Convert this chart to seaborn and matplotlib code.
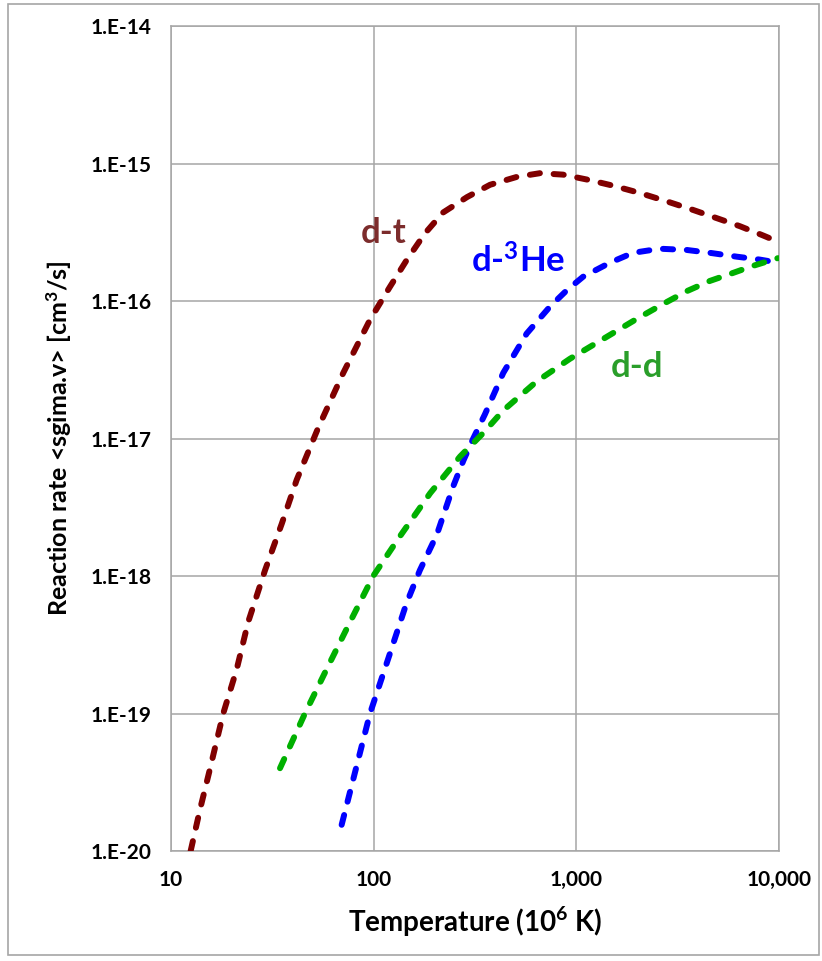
import numpy as np
import pandas as pd
import matplotlib
matplotlib.use("Agg")
import matplotlib.pyplot as plt
import seaborn as sns
from matplotlib.patches import Rectangle
from matplotlib.ticker import FixedLocator, FixedFormatter, NullLocator

# ---- data (T in 10^6 K, rate in cm^3/s) ----
dt_T = [12.5, 13.9, 15.4, 18.1, 21.1, 24.0, 29.1, 35.2, 41.7, 53.3, 70.8, 95.9, 120,
        146, 179, 220, 289, 375, 510, 661, 859, 1150, 1516, 2060, 2800, 3760, 4940,
        6410, 8330, 9880]
dt_rate = [1.0e-20, 2.0e-20, 3.7e-20, 1.0e-19, 2.1e-19, 4.6e-19, 1.1e-18, 2.4e-18,
           5.0e-18, 1.2e-17, 3.0e-17, 7.3e-17, 1.26e-16, 2.0e-16, 3.1e-16, 4.4e-16,
           5.7e-16, 7.0e-16, 8.0e-16, 8.5e-16, 8.3e-16, 7.6e-16, 6.9e-16, 6.1e-16,
           5.3e-16, 4.6e-16, 4.0e-16, 3.5e-16, 3.0e-16, 2.7e-16]

dhe_T = [69.5, 95.9, 120, 145, 169, 205, 247, 277, 310, 354, 436, 569, 741, 899,
         1079, 1466, 1902, 2583, 3512, 4563, 6198, 8050, 9880]
dhe_rate = [1.55e-20, 1.0e-19, 2.7e-19, 6.3e-19, 1.1e-18, 2.0e-18, 4.5e-18, 6.9e-18,
            1.0e-17, 1.5e-17, 3.0e-17, 5.8e-17, 9.1e-17, 1.2e-16, 1.5e-16, 1.9e-16,
            2.24e-16, 2.4e-16, 2.35e-16, 2.24e-16, 2.1e-16, 2.0e-16, 1.9e-16]

dd_T = [34.5, 45.8, 58.6, 76.3, 99.5, 135, 190, 267, 348, 436, 637, 930, 1358, 1983,
        2675, 3512, 4563, 5930, 7430, 9880]
dd_rate = [4.0e-20, 1.0e-19, 2.1e-19, 4.6e-19, 1.0e-18, 1.95e-18, 4.0e-18, 7.4e-18,
           1.1e-17, 1.6e-17, 2.6e-17, 3.8e-17, 5.3e-17, 7.4e-17, 9.5e-17, 1.18e-16,
           1.4e-16, 1.6e-16, 1.8e-16, 2.05e-16]

x_ticks = [10, 100, 1000, 10000]
x_tick_labels = ["10", "100", "1,000", "10,000"]
y_ticks = [1e-20, 1e-19, 1e-18, 1e-17, 1e-16, 1e-15, 1e-14]
y_tick_labels = ["1.E-20", "1.E-19", "1.E-18", "1.E-17", "1.E-16", "1.E-15", "1.E-14"]

series_names = ["d-t", "d-$^{3}$He", "d-d"]
series_colors = ["#800000", "#0000FF", "#00B000"]
label_colors = ["#7C2C2C", "#0000FF", "#2A9E2A"]

# ---- plotting ----
sns.set_theme(style="white")
plt.rcParams["font.family"] = ["Lato", "DejaVu Sans"]
plt.rcParams["mathtext.fontset"] = "custom"
plt.rcParams["mathtext.rm"] = "Lato:bold"
plt.rcParams["mathtext.bf"] = "Lato:bold"
plt.rcParams["mathtext.it"] = "Lato:bold"
plt.rcParams["mathtext.default"] = "bf"

W, H = 822, 961
fig = plt.figure(figsize=(W / 100, H / 100), dpi=100)
ax = fig.add_axes([171 / W, 1 - 851 / H, (779 - 171) / W, (851 - 26) / H])

frames = [
    pd.DataFrame({"T": dt_T, "rate": dt_rate}),
    pd.DataFrame({"T": dhe_T, "rate": dhe_rate}),
    pd.DataFrame({"T": dd_T, "rate": dd_rate}),
]
for df, col in zip(frames, series_colors):
    sns.lineplot(data=df, x="T", y="rate", ax=ax, color=col, linewidth=4.3,
                 sort=False, zorder=3)
for line in ax.get_lines():
    line.set_dashes([1.7, 2.3])
    line.set_dash_capstyle("round")
    line.set_solid_joinstyle("round")

ax.set_xscale("log")
ax.set_yscale("log")
ax.set_xlim(10, 10000)
ax.set_ylim(1e-20, 1e-14)

ax.xaxis.set_major_locator(FixedLocator(x_ticks))
ax.xaxis.set_major_formatter(FixedFormatter(x_tick_labels))
ax.xaxis.set_minor_locator(NullLocator())
ax.yaxis.set_major_locator(FixedLocator(y_ticks))
ax.yaxis.set_major_formatter(FixedFormatter(y_tick_labels))
ax.yaxis.set_minor_locator(NullLocator())

ax.grid(True, which="major", color="#A6A6A6", linewidth=1.1)
for s in ax.spines.values():
    s.set_color("#A6A6A6")
    s.set_linewidth(1.1)
ax.tick_params(axis="both", which="major", direction="out", length=6, width=1.1,
               color="#A6A6A6", labelsize=15, pad=8, labelcolor="black")
for lbl in ax.get_xticklabels() + ax.get_yticklabels():
    lbl.set_fontweight("bold")

ax.set_xlabel("Temperature (10$^{6}$ K)", fontsize=20, fontweight="bold",
              labelpad=10, color="black")
ax.set_ylabel("Reaction rate <sgima.v> [cm$^{3}$/s]", fontsize=18, fontweight="bold",
              labelpad=12, color="black")

# curve labels (positions in axes fraction)
label_pos = [(0.350, 0.737), (0.571, 0.701), (0.767, 0.575)]
for name, (px, py), col in zip(series_names, label_pos, label_colors):
    ax.text(px, py, name, transform=ax.transAxes, color=col, fontsize=25,
            fontweight="bold", ha="center", va="baseline")

ax.set_facecolor("white")
fig.patch.set_facecolor("white")
fig.patches.append(Rectangle((8 / W, 1 - 955 / H), (819 - 8) / W, (955 - 4) / H,
                             transform=fig.transFigure, fill=False,
                             edgecolor="#A6A6A6", linewidth=1.2))

fig.savefig("out.png", dpi=100)
